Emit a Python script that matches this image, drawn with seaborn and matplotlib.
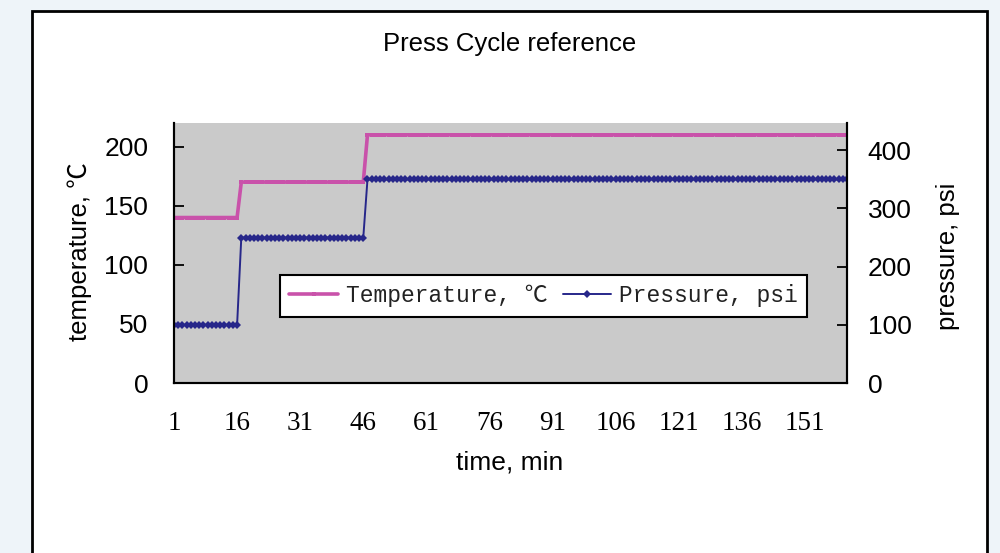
import pandas as pd
import matplotlib
matplotlib.use("Agg")
import matplotlib.pyplot as plt
import seaborn as sns
from matplotlib.patches import Rectangle

# --- data ---
minutes = list(range(1, 162))
temperature = [140] * 16 + [170] * 30 + [210] * 115   # degC
pressure = [100] * 16 + [250] * 30 + [350] * 115       # psi
xtick_vals = list(range(1, 152, 15))
temp_ticks = [0, 50, 100, 150, 200]
press_ticks = [0, 100, 200, 300, 400]

df = pd.DataFrame({"minute": minutes, "temperature": temperature, "pressure": pressure})

sns.set_style("white")
plt.rcParams["font.family"] = ["Liberation Sans", "Noto Sans CJK SC", "DejaVu Sans"]
plt.rcParams["text.color"] = "black"

pink = "#C952AA"
navy = "#27278A"

fig = plt.figure(figsize=(10, 5.53), dpi=100)
fig.patch.set_facecolor("#EEF4F9")

# white chart box with black border
fig.patches.append(Rectangle((0.032, -0.02), 0.955, 1.0, transform=fig.transFigure,
                             facecolor="white", edgecolor="black", linewidth=2, zorder=-5))

ax = fig.add_axes([0.174, 0.3074, 0.673, 0.4702])
ax.set_facecolor("#CACACA")
ax2 = ax.twinx()

sns.lineplot(data=df, x="minute", y="temperature", ax=ax, color=pink, linewidth=2.6,
             marker="s", markersize=2.5, markeredgewidth=0, label="Temperature, ℃", legend=False)
sns.lineplot(data=df, x="minute", y="pressure", ax=ax2, color=navy, linewidth=1.4,
             marker="D", markersize=3.8, markeredgewidth=0, label="Pressure, psi", legend=False)

ax.set_xlim(1, 161)
ax.set_ylim(0, 220)
ax2.set_ylim(0, 447)
ax.set_xticks(xtick_vals)
ax.set_xticklabels([str(v) for v in xtick_vals], family=["Liberation Serif", "DejaVu Serif"], fontsize=19.5)
ax.set_yticks(temp_ticks)
ax2.set_yticks(press_ticks)
ax.tick_params(axis="y", direction="in", length=7, width=1.3, labelsize=19, pad=18.5, colors="black")
ax.tick_params(axis="x", direction="in", length=7, width=1.3, pad=20, colors="black")
ax2.tick_params(axis="y", direction="in", length=7, width=1.3, labelsize=19, pad=15, colors="black")
ax.set_xlabel("")
ax.set_ylabel("")
ax2.set_ylabel("")
ax.grid(False)
ax2.grid(False)

for a in (ax, ax2):
    a.spines["top"].set_visible(False)
    for s in ("left", "right", "bottom"):
        a.spines[s].set_color("black")
        a.spines[s].set_linewidth(1.5)

fig.text(0.510, 0.920, "Press Cycle reference", ha="center", va="center", fontsize=18.5)
fig.text(0.510, 0.163, "time, min", ha="center", va="center", fontsize=19)
fig.text(0.080, 0.545, "temperature, ℃", ha="center", va="center", rotation=90, fontsize=18.5)
fig.text(0.948, 0.537, "pressure, psi", ha="center", va="center", rotation=90, fontsize=18.5)

h1, l1 = ax.get_legend_handles_labels()
h2, l2 = ax2.get_legend_handles_labels()
leg = ax2.legend(h1 + h2, l1 + l2, loc="center", bbox_to_anchor=(0.5495, 0.335), ncol=2,
                 prop={"family": ["Liberation Mono", "Noto Sans CJK SC"], "size": 16.5},
                 frameon=True, fancybox=False, framealpha=1, edgecolor="black",
                 handlelength=2.1, handletextpad=0.35, columnspacing=0.7, borderpad=0.4,
                 borderaxespad=0)
leg.get_frame().set_linewidth(1.5)
for t in leg.get_texts():
    t.set_color("#222222")

fig.savefig("out.png", dpi=100, facecolor=fig.get_facecolor())
